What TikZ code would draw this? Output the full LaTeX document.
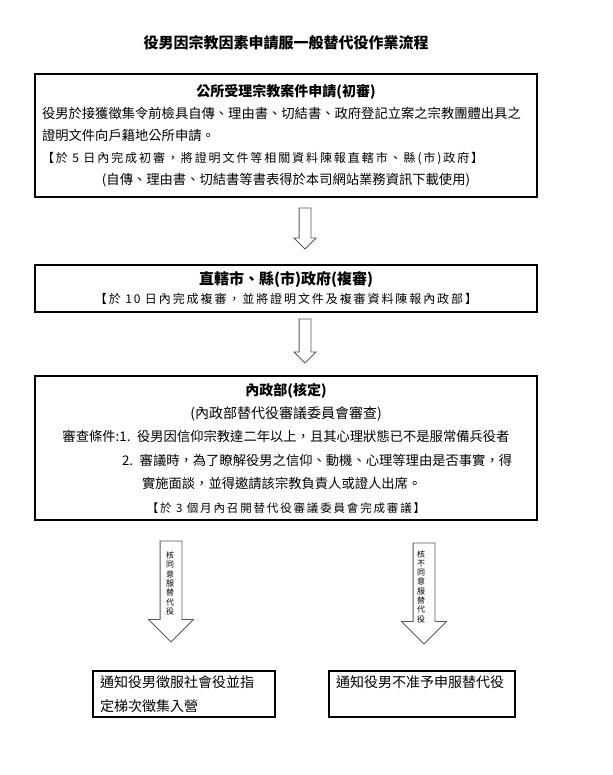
\documentclass[tikz,border=0pt]{standalone}
\usepackage{fontspec}
\setmainfont{Noto Sans CJK TC}
\newfontfamily\mingfont[LetterSpace=16]{Noto Sans CJK TC}
\usetikzlibrary{shapes,arrows,positioning,calc}
\newcommand{\centreline}[1]{\makebox[\linewidth]{#1}}
\newcommand{\noteline}{\mingfont\fontsize{12}{19}\selectfont}
\tikzstyle{flowbox}=[rectangle, draw=black, line width=1.1pt, minimum width=502pt, text width=488pt, inner xsep=7pt, inner ysep=0pt, align=left, font=\fontsize{13.3}{22}\selectfont]
\tikzstyle{resultbox}=[rectangle, draw=black, line width=1.1pt, minimum height=46pt, inner xsep=7pt, inner ysep=0pt, align=left, font=\fontsize{14}{24}\selectfont]
\tikzset{
	hollow/.style={
		single arrow,
		draw=black!65,
		line width=0.8pt,
		fill=white,
		rotate=-90,
		anchor=tail,
		inner xsep=0pt,
		minimum width=0pt,
		single arrow tip angle=90
	},
	thin hollow/.style={
		hollow,
		inner ysep=5.5pt,
		single arrow head extend=5pt
	},
	wide hollow/.style={
		hollow,
		inner ysep=10.5pt,
		single arrow head extend=11.5pt
	},
	vlabel/.style={
		inner sep=0pt,
		align=center,
		font=\fontsize{8}{9.3}\selectfont
	}
}

\begin{document}
\begin{tikzpicture}[x=1pt, y=1pt, node distance=150pt]
	\useasboundingbox (0,0) rectangle (612,-775);
	
	\node(title) at (286,-43) {\fontsize{15}{16}\selectfont\bfseries 役男因宗教因素申請服一般替代役作業流程};
	
	\node(initial)[flowbox, minimum height=123pt] at (286,-135.5) {%
		\centreline{\fontsize{14}{16}\selectfont\bfseries 公所受理宗教案件申請(初審)}\\
		役男於接獲徵集令前檢具自傳、理由書、切結書、政府登記立案之宗教團體出具之\\
		證明文件向戶籍地公所申請。\\
		{\noteline 【於 5 日內完成初審，將證明文件等相關資料陳報直轄市、縣(市)政府】}\\
		\centreline{(自傳、理由書、切結書等書表得於本司網站業務資訊下載使用)}};
	
	\node(review)[flowbox, minimum height=47pt, below of=initial, yshift=-3pt, font=\fontsize{13.3}{19}\selectfont] {%
		\centreline{\fontsize{15}{16}\selectfont\bfseries 直轄市、縣(市)政府(複審)}\\
		\centreline{\noteline 【於 10 日內完成複審，並將證明文件及複審資料陳報內政部】}};
	
	\node(ministry)[flowbox, minimum height=144pt, below of=review, yshift=-9.5pt, font=\fontsize{13.3}{23.4}\selectfont] {%
		\centreline{\fontsize{14}{16}\selectfont\bfseries 內政部(核定)}\\
		\centreline{\fontsize{14}{16}\selectfont (內政部替代役審議委員會審查)}\\
		\centreline{審查條件:1. 役男因信仰宗教達二年以上，且其心理狀態已不是服常備兵役者}\\
		\hspace*{80pt}2. 審議時，為了瞭解役男之信仰、動機、心理等理由是否事實，得\\
		\hspace*{100pt}實施面談，並得邀請該宗教負責人或證人出席。\\
		\centreline{\noteline\fontsize{11.5}{19}\selectfont 【於 3 個月內召開替代役審議委員會完成審議】}};
	
	\node(service)[resultbox, text width=168pt, below of=ministry, xshift=-102pt, yshift=-96pt] {%
		通知役男徵服社會役並指\\
		定梯次徵集入營};
	
	\node(denied)[resultbox, text width=172pt, below of=ministry, xshift=136pt, yshift=-96pt] {%
		通知役男不准予申服替代役\\
		\mbox{}};
	
	% hollow arrows between the boxes
	\node(toReview)[thin hollow, minimum height=41pt] at ($(initial.south)+(19,-10)$) {};
	\node(toMinistry)[thin hollow, minimum height=44pt] at ($(review.south)+(19,-6)$) {};
	\node(approve)[wide hollow, minimum height=101pt] at ($(ministry.south)+(-115,-20)$) {};
	\node(reject)[wide hollow, minimum height=101pt] at ($(ministry.south)+(138,-22)$) {};
	
	\node(approveText)[vlabel] at ($(approve.tail)+(-1,-43)$) {核\\同\\意\\服\\替\\代\\役};
	\node(rejectText)[vlabel] at ($(reject.tail)+(-3,-44)$) {核\\不\\同\\意\\服\\替\\代\\役};
\end{tikzpicture}
\end{document}
